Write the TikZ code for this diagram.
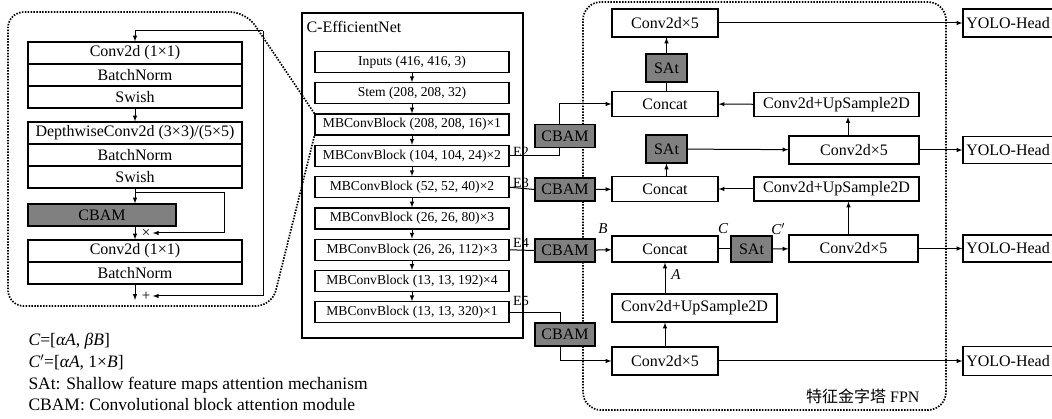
\documentclass[tikz,border=0pt]{standalone}
\usepackage{fontspec}
\setmainfont{Liberation Serif}
\newfontfamily\cjk{Noto Sans CJK SC}
\begin{document}
\begin{tikzpicture}[x=1pt, y=-1pt, line width=1pt,
  blk/.style={draw, line width=1.2pt, inner sep=0pt, minimum width=214pt, minimum height=22pt, font=\fontsize{16}{19}\selectfont},
  mb/.style={draw, line width=1.2pt, inner sep=0pt, minimum width=194pt, minimum height=21pt, font=\fontsize{13.6}{16}\selectfont},
  fp/.style={draw, line width=1.2pt, inner sep=0pt, minimum height=26pt, font=\fontsize{16}{19}\selectfont},
  att/.style={fp, fill=black!50},
  zoomline/.style={line width=1.7pt, dash pattern=on 1.5pt off 1.4pt},
  elab/.style={inner sep=0pt, font=\fontsize{14}{16}\selectfont},
  lbl/.style={inner sep=0pt, font=\fontsize{15}{18}\selectfont\itshape},
  legtext/.style={anchor=base west, inner sep=0pt, font=\fontsize{17.5}{20}\selectfont}]
  \useasboundingbox (0,0) rectangle (1052,419);
  % MBConvBlock detail
  \node[blk] (conv1) at (135,53) {Conv2d (1×1)};
  \node[blk] (bn1) at (135,75) {BatchNorm};
  \node[blk] (sw1) at (135,97) {Swish};
  \node[blk] (dw) at (135,133) {DepthwiseConv2d (3×3)/(5×5)};
  \node[blk] (bn2) at (135,155) {BatchNorm};
  \node[blk] (sw2) at (135,177) {Swish};
  \node[blk, fill=black!50, minimum width=148pt] (lcbam) at (102,215) {CBAM};
  \node[blk] (conv2) at (135,251) {Conv2d (1×1)};
  \node[blk] (bn3) at (135,273) {BatchNorm};
  \node[inner sep=2pt, font=\fontsize{15}{17}\selectfont] (mul) at (146,233) {×};
  \node[inner sep=2pt, font=\fontsize{15}{17}\selectfont] (add) at (146,296) {+};
  \coordinate (lin) at (263,31);
  \coordinate (split) at (135,193);
  \coordinate (skip) at (224,193);
  \coordinate (lout) at (135,300);
  \draw[-latex] (lin) -| (conv1.north);
  \draw[-latex] (lin) |- (add.east);
  \draw[-latex] (sw1) -- (dw);
  \draw[-latex] (sw2.south) -- (sw2.south |- lcbam.north);
  \draw[-latex] (split) -- (skip) |- (mul.east);
  \draw[-latex] (lcbam.south -| conv2.north) -- (conv2.north);
  \draw[-latex] (bn3.south) -- (lout);
  % C-EfficientNet
  \node[draw, line width=1.2pt, inner sep=0pt, minimum width=221pt, minimum height=325pt] (effnet) at (412.5,175.5) {};
  \node[anchor=west, inner sep=0pt, font=\fontsize{16}{19}\selectfont] (efftitle) at (306,27) {C-EfficientNet};
  \foreach \lab [count=\i] in {{Inputs (416, 416, 3)}, {Stem (208, 208, 32)}, {MBConvBlock (208, 208, 16)×1},
      {MBConvBlock (104, 104, 24)×2}, {MBConvBlock (52, 52, 40)×2}, {MBConvBlock (26, 26, 80)×3},
      {MBConvBlock (26, 26, 112)×3}, {MBConvBlock (13, 13, 192)×4}, {MBConvBlock (13, 13, 320)×1}}
    \node[mb] (m\i) at (412, {62+31.3*(\i-1)}) {\lab};
  \foreach \i in {1,...,8} {
    \pgfmathtruncatemacro\j{\i+1}
    \draw[-latex] (m\i) -- (m\j);
  }
  \draw[zoomline, rounded corners=16pt] (m3.north west) -- (246,12) -- (8,12) -- (8,306) -- (272,306) -- (m3.south west);
  \node[elab] (e2) at (521,152) {E2};
  \node[elab] (e3) at (521,183) {E3};
  \node[elab] (e4) at (521,243) {E4};
  \node[elab] (e5) at (521,301) {E5};
  % FPN
  \node[draw, zoomline, rounded corners=18pt, minimum width=363pt, minimum height=408pt] (fpn) at (764.5,206) {};
  \node[anchor=east, inner sep=0pt, font=\fontsize{16}{19}\selectfont] (fpntitle) at (920,396) {{\cjk 特征金字塔} FPN};
  \node[att, minimum width=60pt, minimum height=23pt] (cbam1) at (565,136) {CBAM};
  \node[att, minimum width=60pt, minimum height=23pt] (cbam2) at (565,189.5) {CBAM};
  \node[att, minimum width=60pt, minimum height=23pt] (cbam3) at (565,250.5) {CBAM};
  \node[att, minimum width=60pt, minimum height=23pt] (cbam4) at (565,334.5) {CBAM};
  \node[fp, minimum width=106pt, minimum height=28pt] (c5a) at (665,23) {Conv2d×5};
  \node[att, minimum width=41pt, minimum height=28pt] (sat1) at (666.5,68) {SAt};
  \node[fp, minimum width=106pt, minimum height=25pt] (cat1) at (665,104) {Concat};
  \node[fp, minimum width=165pt, minimum height=24pt] (up1) at (836.5,104.5) {Conv2d+UpSample2D};
  \node[att, minimum width=41pt, minimum height=28pt] (sat2) at (666.5,149) {SAt};
  \node[fp, minimum width=130pt, minimum height=28pt] (c5b) at (854,150) {Conv2d×5};
  \node[fp, minimum width=106pt, minimum height=25pt] (cat2) at (665,189) {Concat};
  \node[fp, minimum width=165pt, minimum height=24pt] (up2) at (836.5,189) {Conv2d+UpSample2D};
  \node[fp, minimum width=106pt, minimum height=26pt] (cat3) at (665,249) {Concat};
  \node[att, minimum width=41pt, minimum height=26pt] (sat3) at (751.5,249) {SAt};
  \node[fp, minimum width=129pt, minimum height=27pt] (c5c) at (853.5,248.5) {Conv2d×5};
  \node[fp, minimum width=165pt, minimum height=28pt] (up3) at (694.5,308) {Conv2d+UpSample2D};
  \node[fp, minimum width=106pt, minimum height=28pt] (c5d) at (665,361) {Conv2d×5};
  \node[fp, minimum width=90pt, minimum height=28pt] (yolo1) at (1008,23) {YOLO-Head};
  \node[fp, minimum width=90pt, minimum height=27pt] (yolo2) at (1008,150) {YOLO-Head};
  \node[fp, minimum width=90pt, minimum height=27pt] (yolo3) at (1008,248.5) {YOLO-Head};
  \node[fp, minimum width=90pt, minimum height=29pt] (yolo4) at (1008,361) {YOLO-Head};
  \node[lbl] (labB) at (603,229) {B};
  \node[lbl] (labC) at (723,229) {C};
  \node[lbl] (labCp) at (778,229) {C$'$};
  \node[lbl] (labA) at (676,275) {A};
  % backbone to FPN
  \draw (m4.east) -| ([xshift=-6pt]cbam1.south);
  \draw[-latex] ([xshift=-6pt]cbam1.north) |- (cat1.west);
  \draw (m5.east) -- (cbam2.west);
  \draw[-latex] (cbam2) -- (cat2);
  \draw (m7.east) -- (cbam3.west);
  \draw[-latex] (cbam3) -- (cat3);
  \draw (m9.east) -| ([xshift=-5pt]cbam4.north);
  \draw[-latex] ([xshift=-5pt]cbam4.south) |- (c5d.west);
  % FPN paths
  \draw[-latex] (c5d) -- (c5d |- up3.south);
  \draw[-latex] (c5d) -- (yolo4);
  \draw[-latex] (up3.north -| cat3) -- (cat3.south);
  \draw (cat3) -- (sat3);
  \draw[-latex] (sat3) -- (c5c);
  \draw[-latex] (c5c) -- (yolo3);
  \draw[-latex] ([xshift=-5pt]c5c.north) -- ([xshift=-5pt]c5c.north |- up2.south);
  \draw[-latex] (up2) -- (cat2);
  \draw[-latex] (cat2.north -| sat2) -- (sat2.south);
  \draw[-latex] (sat2) -- (c5b);
  \draw[-latex] (c5b) -- (yolo2);
  \draw[-latex] ([xshift=-6pt]c5b.north) -- ([xshift=-6pt]c5b.north |- up1.south);
  \draw[-latex] (up1) -- (cat1);
  \draw (cat1.north -| sat1) -- (sat1.south);
  \draw[-latex] (sat1.north) -- (sat1.north |- c5a.south);
  \draw[-latex] (c5a) -- (yolo1);
  % legend
  \node[legtext] (leg1) at (28,346) {\textit{C}=[\textit{αA}, \textit{βB}]};
  \node[legtext] (leg2) at (28,368) {\textit{C}$'$=[\textit{αA}, 1×\textit{B}]};
  \node[legtext] (leg3) at (28,389) {SAt: Shallow feature maps attention mechanism};
  \node[legtext] (leg4) at (28,410) {CBAM: Convolutional block attention module};
\end{tikzpicture}
\end{document}
